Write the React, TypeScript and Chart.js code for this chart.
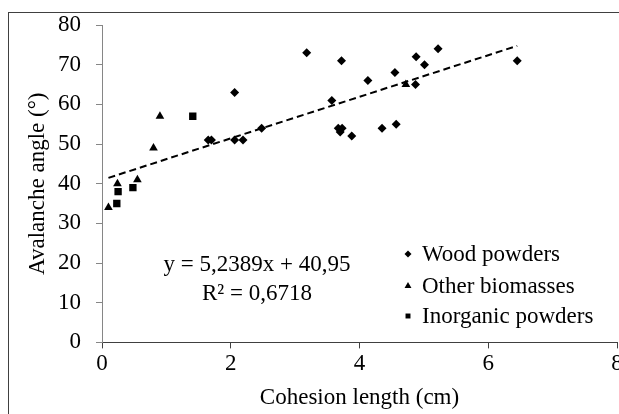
import React, { useEffect, useRef } from "react";
import { Chart, registerables } from "chart.js";

Chart.register(...registerables);

// ---- data ----
const woodX = [1.65, 1.7, 2.06, 2.06, 2.19, 2.48, 3.18, 3.57, 3.67, 3.73, 3.7, 3.72, 3.88, 4.13, 4.35, 4.55, 4.57, 4.87, 4.88, 5.01, 5.22, 6.45];
const woodY = [51, 51, 63, 51, 51, 54, 73, 61, 54, 54, 53, 71, 52, 66, 54, 68, 55, 65, 72, 70, 74, 71];
const otherX = [0.1, 0.24, 0.55, 0.8, 0.9, 4.72];
const otherY = [34, 40, 41, 49, 57, 65];
const inorgX = [0.23, 0.25, 0.48, 1.41];
const inorgY = [35, 38, 39, 57];
const trendSlope = 5.2389;
const trendIntercept = 40.95;
const trendX = [0.1, 6.45];
const seriesNames = ["Wood powders", "Other biomasses", "Inorganic powders"];
const equationLines = ["y = 5,2389x + 40,95", "R² = 0,6718"];
const xTitle = "Cohesion length (cm)";
const yTitle = "Avalanche angle (°)";
const xMin = 0, xMax = 8, xStep = 2;
const yMin = 0, yMax = 80, yStep = 10;

const FONT = "'Liberation Serif', 'Times New Roman', serif";
const FS = 23;
const W = 611;
const H = 406;

function toPts(xs: number[], ys: number[]) {
  return xs.map((x, i) => ({ x, y: ys[i] }));
}

function marker(ctx: CanvasRenderingContext2D, style: string, x: number, y: number, r: number) {
  ctx.beginPath();
  if (style === "rectRot") {
    ctx.moveTo(x - r, y);
    ctx.lineTo(x, y - r);
    ctx.lineTo(x + r, y);
    ctx.lineTo(x, y + r);
  } else if (style === "triangle") {
    ctx.moveTo(x, y - r);
    ctx.lineTo(x + r * 0.866, y + r / 2);
    ctx.lineTo(x - r * 0.866, y + r / 2);
  } else {
    const s = r * Math.SQRT1_2;
    ctx.rect(x - s, y - s, 2 * s, 2 * s);
  }
  ctx.closePath();
  ctx.fill();
}

const overlayPlugin = {
  id: "overlay",
  afterDraw(chart: any) {
    const ctx: CanvasRenderingContext2D = chart.ctx;
    ctx.save();
    ctx.fillStyle = "#000";
    ctx.font = `${FS}px ${FONT}`;
    ctx.textAlign = "center";
    ctx.textBaseline = "alphabetic";
    ctx.fillText(equationLines[0], 249, 263);
    ctx.fillText(equationLines[1], 249, 292);
    const styles = ["rectRot", "triangle", "rect"];
    const rows = [246, 278, 308];
    ctx.textAlign = "left";
    ctx.textBaseline = "middle";
    seriesNames.forEach((name, i) => {
      marker(ctx, styles[i], 400, rows[i], i === 1 ? 4 : 3.5);
      ctx.fillText(name, 414, rows[i] + 1);
    });
    ctx.restore();
  },
};

export default function App() {
  const ref = useRef<HTMLCanvasElement>(null);
  useEffect(() => {
    if (!ref.current) return;
    document.body.style.overflow = "hidden";
    document.documentElement.style.overflow = "hidden";
    Chart.defaults.font.family = FONT;
    const chart = new Chart(ref.current, {
      type: "scatter",
      data: {
        datasets: [
          { label: seriesNames[0], data: toPts(woodX, woodY), pointStyle: "rectRot", pointRadius: 4.5, backgroundColor: "#000", borderWidth: 0 },
          { label: seriesNames[1], data: toPts(otherX, otherY), pointStyle: "triangle", pointRadius: 5, backgroundColor: "#000", borderWidth: 0 },
          { label: seriesNames[2], data: toPts(inorgX, inorgY), pointStyle: "rect", pointRadius: 5.2, backgroundColor: "#000", borderWidth: 0 },
          {
            label: "trend",
            data: trendX.map((x) => ({ x, y: trendSlope * x + trendIntercept })),
            showLine: true,
            borderColor: "#000",
            borderWidth: 2,
            borderDash: [7, 4],
            pointRadius: 0,
          } as any,
        ],
      },
      options: {
        responsive: false,
        animation: false,
        layout: { autoPadding: false, padding: { top: 17, left: 0, right: 2, bottom: 1.6 } },
        plugins: { legend: { display: false }, tooltip: { enabled: false } },
        scales: {
          x: {
            type: "linear",
            min: xMin,
            max: xMax,
            afterFit: (s: any) => { s.height = 70; s.paddingLeft = 0; s.paddingRight = 0; },
            ticks: { stepSize: xStep, color: "#000", font: { size: FS }, padding: 2, maxRotation: 0 },
            grid: { display: true, drawOnChartArea: false, drawTicks: true, tickLength: 6, tickColor: "#404040" },
            border: { display: true, color: "#404040", width: 1 },
            title: { display: true, text: xTitle, color: "#000", font: { size: FS }, padding: { top: 0, bottom: 0.6 } },
          },
          y: {
            type: "linear",
            min: yMin,
            max: yMax,
            afterFit: (s: any) => { s.width = 94; s.paddingTop = 0; s.paddingBottom = 0; },
            ticks: { stepSize: yStep, color: "#000", font: { size: FS }, padding: 15 },
            grid: { display: true, drawOnChartArea: false, drawTicks: true, tickLength: 6, tickColor: "#868686" },
            border: { display: true, color: "#868686", width: 1 },
            title: { display: true, text: yTitle, color: "#000", font: { size: FS }, padding: { top: 16.2, bottom: 0 } },
          },
        },
      },
      plugins: [overlayPlugin],
    } as any);
    return () => chart.destroy();
  }, []);

  return (
    <div style={{ position: "fixed", left: 0, top: 0, width: 619, height: 414, overflow: "hidden", background: "#fff" }}>
      <div
        style={{
          position: "absolute",
          left: 8,
          top: 12,
          right: 0,
          bottom: 0,
          borderLeft: "1px solid #404040",
          borderTop: "1px solid #404040",
        }}
      />
      <canvas ref={ref} width={W} height={H} style={{ position: "absolute", left: 8, top: 8, width: W, height: H }} />
    </div>
  );
}
